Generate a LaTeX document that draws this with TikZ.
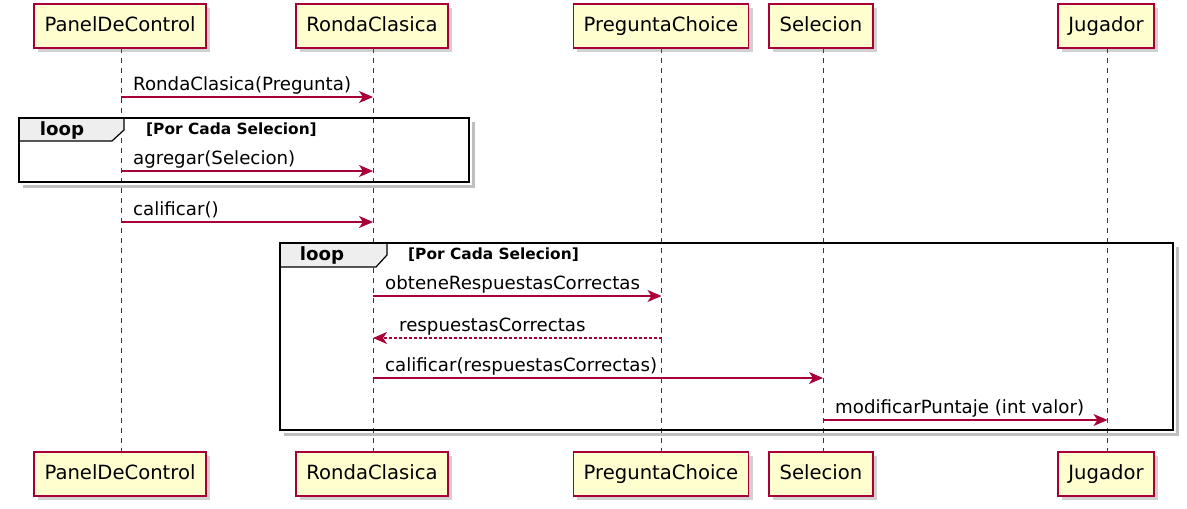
\documentclass[tikz,border=0pt]{standalone}
\usepackage{fontspec}
\setmainfont{DejaVu Sans}
\usetikzlibrary{arrows.meta,shadows}
\definecolor{pfill}{HTML}{FEFECE}
\definecolor{pline}{HTML}{A80036}
\definecolor{tabfill}{HTML}{EEEEEE}
\begin{document}
\begin{tikzpicture}[x=1pt,y=-1pt,
  part/.style={draw=pline, fill=pfill, line width=1.4pt, minimum height=44pt, inner ysep=0pt, inner xsep=10.5pt,
    text height=11pt, text depth=0pt,
    font=\fontsize{19.6}{23}\selectfont,
    drop shadow={opacity=0.3, fill=black!60, shadow xshift=4pt, shadow yshift=-4pt}},
  life/.style={draw=pline, line width=1pt, dash pattern=on 5pt off 5pt},
  msg/.style={draw=pline, line width=1.2pt, -{Stealth[length=14pt,width=12pt,inset=4pt]}},
  ret/.style={msg, dash pattern=on 2.5pt off 2.5pt},
  lbl/.style={anchor=base west, inner sep=0pt, font=\fontsize{18.2}{21}\selectfont},
  frame/.style={draw=black, line width=2.8pt},
  fshadow/.style={draw=black, opacity=0.25, line width=3pt},
  tabshape/.style={draw=black, fill=tabfill, line width=1.2pt},
  looptxt/.style={inner sep=0pt, font=\bfseries\fontsize{18.2}{21}\selectfont},
  condtxt/.style={anchor=west, inner sep=0pt, font=\bfseries\fontsize{15.4}{18}\selectfont}
]
\useasboundingbox (0,0) rectangle (1187,509);

% lifeline x positions
\coordinate (xpc) at (121,0);
\coordinate (xrc) at (373,0);
\coordinate (xpq) at (661.5,0);
\coordinate (xse) at (823,0);
\coordinate (xju) at (1107.5,0);

% lifelines
\draw[life] (xpc |- 0,48) -- (xpc |- 0,452);
\draw[life] (xrc |- 0,48) -- (xrc |- 0,452);
\draw[life] (xpq |- 0,48) -- (xpq |- 0,452);
\draw[life] (xse |- 0,48) -- (xse |- 0,452);
\draw[life] (xju |- 0,48) -- (xju |- 0,452);

% top participants
\node[part] (pc) at (120,26) {PanelDeControl};
\node[part] (rc) at (372,26) {RondaClasica};
\node[part] (pq) at (661,26) {PreguntaChoice};
\node[part] (se) at (821,26) {Selecion};
\node[part] (ju) at (1106,26) {Jugador};

% bottom participants
\node[part] (pcb) at (120,474) {PanelDeControl};
\node[part] (rcb) at (372,474) {RondaClasica};
\node[part] (pqb) at (661,474) {PreguntaChoice};
\node[part] (seb) at (821,474) {Selecion};
\node[part] (jub) at (1106,474) {Jugador};

% loop 1
\draw[fshadow] (473,122) -- (473,186) -- (23,186);
\draw[frame] (19,118) rectangle (469,182);
\draw[tabshape] (19,118) -- (124,118) -- (124,130) -- (112,141) -- (19,141) -- cycle;
\draw[frame] (19,118) rectangle (469,182);
\node[looptxt] (l1) at (62,130) {loop};
\node[condtxt] (c1) at (146,130) {[Por Cada Selecion]};

% loop 2
\draw[fshadow] (1177,247) -- (1177,434) -- (284,434);
\draw[frame] (280,243) rectangle (1173,430);
\draw[tabshape] (280,243) -- (387,243) -- (387,255) -- (376,267) -- (280,267) -- cycle;
\draw[frame] (280,243) rectangle (1173,430);
\node[looptxt] (l2) at (322,255) {loop};
\node[condtxt] (c2) at (408,255) {[Por Cada Selecion]};

% messages
\coordinate (y1) at (0,97);
\draw[msg] (xpc |- y1) -- (xrc |- y1);
\node[lbl] (t1) at (133,90) {RondaClasica(Pregunta)};

\coordinate (y2) at (0,171);
\draw[msg] (xpc |- y2) -- (xrc |- y2);
\node[lbl] (t2) at (133,164) {agregar(Selecion)};

\coordinate (y3) at (0,222);
\draw[msg] (xpc |- y3) -- (xrc |- y3);
\node[lbl] (t3) at (133,215) {calificar()};

\coordinate (y4) at (0,296);
\draw[msg] (xrc |- y4) -- (xpq |- y4);
\node[lbl] (t4) at (385,289) {obteneRespuestasCorrectas};

\coordinate (y5) at (0,338);
\draw[ret] (xpq |- y5) -- (xrc |- y5);
\node[lbl] (t5) at (399,331) {respuestasCorrectas};

\coordinate (y6) at (0,378);
\draw[msg] (xrc |- y6) -- (xse |- y6);
\node[lbl] (t6) at (385,371) {calificar(respuestasCorrectas)};

\coordinate (y7) at (0,420);
\draw[msg] (xse |- y7) -- (xju |- y7);
\node[lbl] (t7) at (835,413) {modificarPuntaje (int valor)};
\end{tikzpicture}
\end{document}
